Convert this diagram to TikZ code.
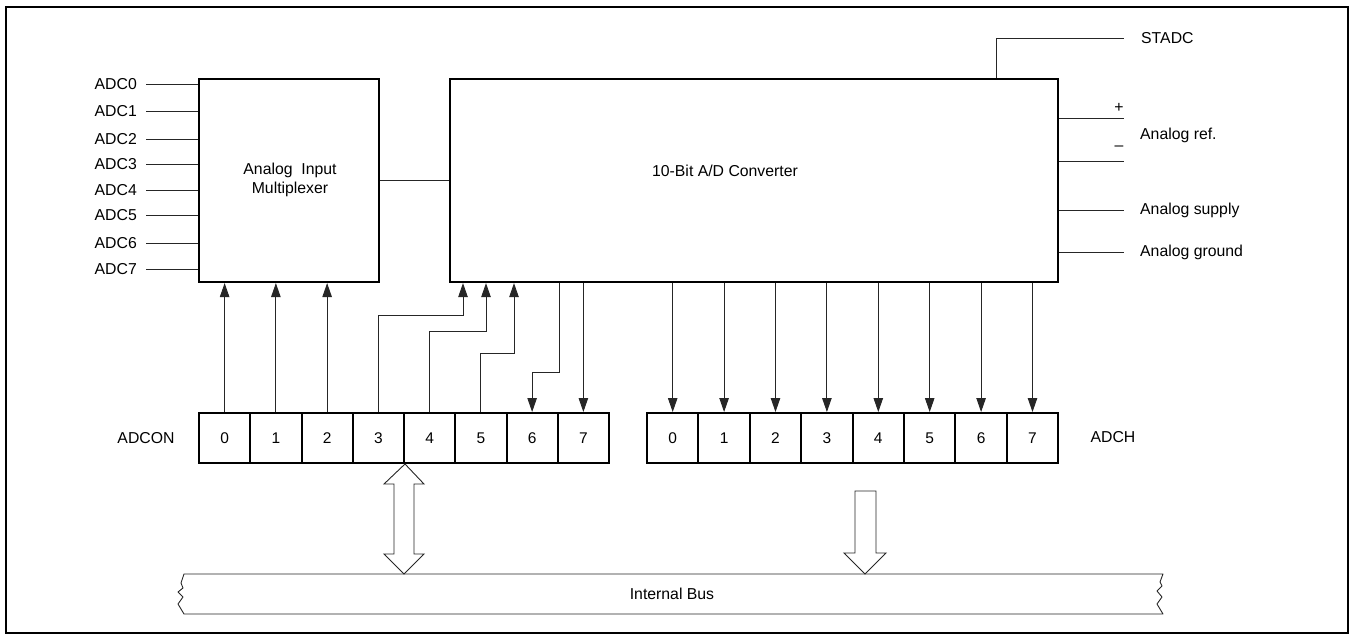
\documentclass[tikz,border=0pt]{standalone}
\usepackage{fontspec}
\setmainfont{Liberation Sans}
\usetikzlibrary{arrows.meta}
\begin{document}
\begin{tikzpicture}[x=1pt,y=-1pt,
  wire/.style={line width=0.9pt, draw=black!85},
  arr/.style={wire, -{Triangle[length=14pt,width=9.5pt]}},
  blk/.style={draw, line width=2.2pt, inner sep=0pt},
  cell/.style={draw, line width=2pt, minimum width=51.25pt, minimum height=50pt, inner sep=0pt, font=\fontsize{15.5}{18}\selectfont},
  lbl/.style={inner sep=0pt, font=\fontsize{15.8}{19}\selectfont},
  hollow/.style={wire, fill=white, line join=miter}
]
\useasboundingbox (0,0) rectangle (1353,639);
% outer frame
\draw[line width=1.8pt] (6,7) rectangle (1348,633);

% multiplexer
\node[blk, minimum width=180pt, minimum height=203pt] (mux) at (289,180.5) {};
\node[lbl, align=center] (muxtxt) at (290,180) {Analog\ \ Input\\Multiplexer};

% converter
\node[blk, minimum width=608pt, minimum height=203pt] (conv) at (754,180.5) {};
\node[lbl] (convtxt) at (725,171) {10-Bit A/D Converter};

% mux to converter
\draw[wire] (mux.east) -- (mux.east -| conv.west);

% analog inputs
\foreach \i/\y in {0/84,1/111,2/139,3/164,4/190,5/215,6/243,7/269}{
  \node[lbl, anchor=east] (in\i) at (137,\y) {ADC\i};
  \draw[wire] ([xshift=9pt]in\i.east) -- (in\i.east -| mux.west);
}

% STADC
\node[lbl, anchor=west] (stadc) at (1141,38) {STADC};
\coordinate (stc) at (996,38);
\draw[wire] (stc |- conv.north) -- (stc) -- ([xshift=-17pt]stadc.west);

% right side signals
\node[lbl, anchor=west] (aref) at (1140,135) {Analog ref.};
\node[lbl] (plus) at (1119,108) {+};
\node[lbl] (minus) at (1119,148) {\textendash};
\node[lbl, anchor=west] (asup) at (1140,210) {Analog supply};
\node[lbl, anchor=west] (agnd) at (1140,252) {Analog ground};
\coordinate (rp) at (1124,118);
\coordinate (rm) at (1124,161);
\draw[wire] (rp -| conv.east) -- (rp);
\draw[wire] (rm -| conv.east) -- (rm);
\draw[wire] (asup.west -| conv.east) -- ([xshift=-16pt]asup.west);
\draw[wire] (agnd.west -| conv.east) -- ([xshift=-16pt]agnd.west);

% ADCON register
\foreach \i in {0,...,7}{
  \node[cell] (a\i) at ({199+51.25*(\i+0.5)},438) {\i};
}
\node[lbl] (adcon) at (146,438) {ADCON};

% ADCH register
\foreach \i in {0,...,7}{
  \node[cell] (h\i) at ({647+51.4*(\i+0.5)},438) {\i};
}
\node[lbl] (adch) at (1113,437) {ADCH};

% ADCON bits 0-2 to mux
\foreach \i in {0,1,2}{
  \draw[arr] (a\i.north) -- (a\i.north |- mux.south);
}
% ADCON bits 3-5 to converter
\draw[arr] (a3.north) |- (463,315) -- (463,315 |- conv.south);
\draw[arr] (a4.north) |- (486,331) -- (486,331 |- conv.south);
\draw[arr] (a5.north) |- (514,353) -- (514,353 |- conv.south);
% converter to ADCON bits 6-7
\draw[arr] (559,372 |- conv.south) -- (559,372) -| (a6.north);
\draw[arr] (a7.north |- conv.south) -- (a7.north);

% converter to ADCH
\foreach \i in {0,...,7}{
  \draw[arr] (h\i.north |- conv.south) -- (h\i.north);
}

% internal bus
\draw[wire, line join=round] (184,574) -- (1163,574) -- (1160,582) -- (1162,586) -- (1157,591) -- (1162,597) -- (1157,604) -- (1163,614)
  -- (184,614) -- (178,604) -- (183,597) -- (178,592) -- (183,588) -- (181,583) -- cycle;
\node[lbl] (bus) at (672,594) {Internal Bus};

% bidirectional arrow ADCON <-> bus
\draw[hollow] (a3.south east) -- (424,484) -- (414,484) -- (414,554) -- (424,554) -- (404,574)
  -- (384,554) -- (394,554) -- (394,484) -- (384,484) -- cycle;

% ADCH -> bus arrow
\draw[hollow] (855,491) -- (876,491) -- (876,553) -- (886,553) -- (865,574) -- (844,553) -- (855,553) -- cycle;
\end{tikzpicture}
\end{document}
